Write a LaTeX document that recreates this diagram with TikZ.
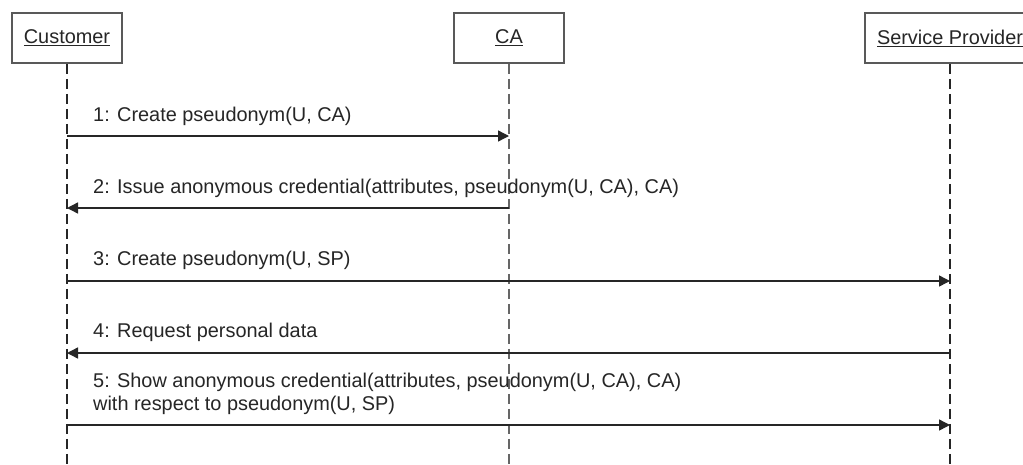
\documentclass[tikz,border=0pt]{standalone}
\usepackage{fontspec}
\setmainfont{Liberation Sans}
\usetikzlibrary{arrows.meta}
\begin{document}
\begin{tikzpicture}[x=1pt,y=-1pt,
  font=\fontsize{19.9}{23}\selectfont,
  actor/.style={draw=black!65,line width=1.5pt,fill=white,minimum height=50pt,inner sep=0pt,text=black!85},
  lifeline/.style={draw=black!85,line width=1.3pt,dash pattern=on 10pt off 5pt},
  msg/.style={draw=black!85,line width=1.4pt,-{Triangle[length=11pt,width=11pt]}},
  msglabel/.style={anchor=base west,inner sep=0pt,text=black!85,align=left}]
  \clip (0,0) rectangle (1023,464);
  \fill[white] (0,0) rectangle (1023,464);

  % objects
  \node[actor,minimum width=110pt] (cust) at (67,38) {\underline{Customer}};
  \node[actor,minimum width=110pt] (ca) at (509,38) {\underline{CA}};
  \node[actor,minimum width=170pt] (sp) at (950,38) {\underline{Service Provider}};

  % lifelines
  \coordinate (custend) at (67,470);
  \coordinate (caend) at (509,470);
  \coordinate (spend) at (950,470);
  \draw[lifeline] (cust.south) -- (custend);
  \draw[lifeline,draw=black!60] (ca.south) -- (caend);
  \draw[lifeline] (sp.south) -- (spend);

  % message end points on the lifelines
  \coordinate (c1) at (67,136);  \coordinate (a1) at (509,136);
  \coordinate (c2) at (67,208);  \coordinate (a2) at (509,208);
  \coordinate (c3) at (67,281);  \coordinate (s3) at (950,281);
  \coordinate (c4) at (67,353);  \coordinate (s4) at (950,353);
  \coordinate (c5) at (67,425);  \coordinate (s5) at (950,425);

  % messages
  \draw[msg] (c1) -- (a1);
  \draw[msg] (a2) -- (c2);
  \draw[msg] (c3) -- (s3);
  \draw[msg] (s4) -- (c4);
  \draw[msg] (c5) -- (s5);

  % message labels (base of a two-line label is its last line)
  \node[msglabel] (l1) at (93,121) {1: Create pseudonym(U, CA)};
  \node[msglabel] (l2) at (93,193) {2: Issue anonymous credential(attributes, pseudonym(U, CA), CA)};
  \node[msglabel] (l3) at (93,265) {3: Create pseudonym(U, SP)};
  \node[msglabel] (l4) at (93,337) {4: Request personal data};
  \node[msglabel] (l5) at (93,410) {5: Show anonymous credential(attributes, pseudonym(U, CA), CA)\\with respect to pseudonym(U, SP)};
\end{tikzpicture}
\end{document}
